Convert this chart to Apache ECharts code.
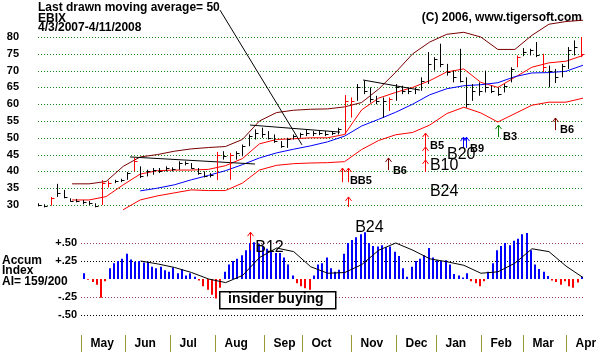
<!DOCTYPE html>
<html><head><meta charset="utf-8">
<script src="https://cdn.jsdelivr.net/npm/echarts@6/dist/echarts.min.js"></script>
<style>html,body{margin:0;padding:0;background:#fff}#c{width:611px;height:352px}</style>
</head><body><div id="c"></div>
<script>
// ---------- data ----------
const months = ['May','Jun','Jul','Aug','Sep','Oct','Nov','Dec','Jan','Feb','Mar','Apr'];
const monthStartDays = [20,41,62,83,106,124,147,168,187,208,228,248];
const lastDay = 256;
const priceTicks = [30, 80, 5];          // min, max, step
const accumTicks = [-0.5, 0.5, 0.25];

const barStep = 3; // trading days between bars
const barHigh  = [30.5,30.2,32.4,36.3,34.5,32.0,31.8,31.5,31.2,30.5,37.4,37.2,37.5,37.8,39.8,44.0,41.5,40.5,41.0,41.0,41.5,41.2,43.0,43.0,42.5,41.0,40.0,39.5,45.8,46.0,45.5,46.0,48.0,51.0,52.5,53.0,52.0,51.0,49.0,50.0,51.0,51.5,52.6,52.0,52.0,52.0,52.0,53.0,62.7,62.0,66.0,67.0,65.0,62.5,62.0,62.0,66.0,65.5,65.0,65.0,68.0,75.5,74.0,78.0,72.0,70.0,76.5,68.0,66.0,66.5,70.0,65.5,65.0,66.0,71.0,74.5,76.7,76.5,78.5,75.0,71.5,70.5,72.0,77.0,79.0,80.0];
const barLow   = [29.6,29.3,29.8,32.4,32.0,31.0,30.8,30.2,30.0,29.3,30.0,35.2,36.5,36.8,37.5,40.0,38.0,38.5,39.0,39.5,40.0,40.0,40.5,41.8,40.8,39.0,38.2,38.2,37.4,43.5,37.5,43.5,44.5,47.5,49.5,50.0,49.5,48.5,47.0,47.0,49.5,50.0,50.5,50.5,50.8,50.5,50.8,51.0,51.0,56.0,61.0,63.0,60.5,60.0,56.0,58.0,61.0,63.0,63.0,63.0,64.0,66.0,70.0,71.0,68.5,66.5,66.5,59.0,61.0,62.5,63.5,63.3,62.5,63.5,66.5,71.0,74.3,74.5,74.0,69.6,65.0,66.3,68.0,70.5,74.5,74.0];
const barClose = [30.0,29.6,32.0,33.5,32.5,31.3,31.2,30.8,30.5,29.6,36.5,36.6,37.0,37.5,39.5,43.0,38.5,40.0,40.5,40.0,41.0,40.8,42.5,42.5,41.0,39.5,38.5,39.0,45.0,44.5,44.8,45.5,47.5,50.5,51.5,51.0,50.0,49.0,47.5,49.5,50.5,51.0,51.5,51.5,51.5,51.2,51.5,52.5,61.0,61.0,65.0,64.0,61.5,61.0,61.0,61.5,65.0,64.0,64.0,64.5,67.0,72.0,73.5,72.0,69.5,68.0,67.0,60.0,64.0,64.0,65.0,64.0,63.0,65.5,70.5,74.0,75.5,76.0,74.5,71.0,70.0,68.0,71.5,76.0,77.0,75.0];
const barUp    = [0,0,1,0,0,0,0,0,0,0,1,1,0,0,0,1,0,0,0,0,0,0,0,0,0,0,0,0,1,0,1,0,0,0,0,0,0,0,0,0,0,0,0,0,0,0,0,0,1,1,0,0,0,0,0,1,0,0,0,0,0,0,0,0,0,0,0,0,0,0,0,0,0,0,0,1,0,0,0,1,0,0,0,0,0,1];

const maStep = 8; // trading days between line samples
const ma21      = [null,null,31.5,31.5,32.5,36.0,39.2,40.2,40.4,40.4,40.6,41.7,43.8,48.2,49.5,49.7,50.0,50.0,51.0,58.3,61.8,63.5,65.0,67.0,69.6,70.5,66.5,65.0,68.0,71.0,72.3,72.8,74.5];
const ma50      = [null,null,null,null,null,null,34.2,35.0,36.0,37.5,38.8,40.2,42.0,44.0,45.5,46.6,47.6,48.8,50.5,53.5,55.5,57.6,60.0,62.8,64.6,65.5,65.8,66.4,68.2,69.3,69.4,69.8,71.6];
const bandUpper = [null,null,36.3,36.3,37.0,41.5,44.3,45.0,46.0,46.7,47.1,47.4,49.5,55.0,57.5,58.2,58.5,58.6,59.2,60.5,64.5,69.5,75.0,78.5,80.8,81.4,80.0,76.3,76.3,80.5,83.8,84.6,85.0];
const bandLower = [null,null,null,null,null,28.6,31.5,32.7,33.6,34.5,34.3,34.3,36.5,40.4,41.8,42.3,42.5,42.6,42.9,46.5,49.2,50.9,51.6,53.8,57.2,59.1,57.4,54.7,57.2,59.7,60.6,60.6,61.8];

const accumStart = 21, accumStep = 2;
const accum = [0.08,-0.01,-0.04,-0.08,-0.26,-0.03,0.15,0.22,0.25,0.28,0.35,0.27,0.24,0.25,0.23,0.24,0.17,0.15,0.17,0.12,0.10,0.16,0.08,0.14,0.05,0.08,0.03,-0.02,-0.10,-0.15,-0.22,-0.27,-0.12,0.10,0.20,0.25,0.28,0.33,0.40,0.50,0.51,0.49,0.46,0.42,0.40,0.36,0.36,0.30,0.20,0.05,-0.06,-0.10,-0.13,-0.15,0.05,0.20,0.22,0.30,0.15,0.10,0.13,0.35,0.50,0.54,0.58,0.62,0.65,0.50,0.46,0.45,0.47,0.44,0.45,0.38,0.32,0.15,0.03,0.17,0.25,0.28,0.33,0.43,0.30,0.26,0.25,0.26,0.20,0.07,0.05,0.02,0.08,-0.03,-0.06,-0.10,-0.03,0.10,0.22,0.40,0.46,0.50,0.47,0.53,0.56,0.62,0.64,0.40,0.20,0.14,0.10,0.04,-0.02,-0.04,-0.08,-0.03,-0.10,-0.12,-0.05,0.03];
const accumMA = [null,null,null,null,null,null,0.25,0.21,0.16,0.09,0.00,-0.05,0.05,0.30,0.43,0.38,0.17,0.08,0.09,0.20,0.40,0.50,0.40,0.28,0.24,0.19,0.08,0.10,0.22,0.42,0.38,0.18,0.02];

// trend lines [day, price] pairs
const trendLines = [[[43.2,44.3],[101.9,42.2]], [[99.6,53.8],[141.9,51.7]], [[152.7,67.2],[179.4,64.2]]];
const pointerLine = [[85.5,88.0],[124.0,47.9]];

// signals: [day, fromValue, toValue, kind]
const priceArrows = [[143,36.8,41,'r'],[145.6,36.8,41,'r'],[145.6,29.4,32.4,'r'],[164.4,40.4,44,'m'],[181.8,39.8,43.4,'r'],[181.8,43.4,47.3,'r'],[181.8,47.3,51.4,'r'],[199.6,47,50.2,'b'],[201.2,47,50.2,'b'],[216,50.2,53.8,'g'],[242.8,52.3,55.9,'m']];
// labels: [day, value, text, big]
const priceLabels = [[146.5,37.1,'BB5',0],[166.7,40.1,'B6',0],[184.1,47.6,'B5',0],[184.1,41.6,'B10',1],[184.1,33.9,'B24',1],[192.1,44.9,'B20',1],[202.9,46.7,'B9',0],[218.4,50.2,'B3',0],[245.2,52.3,'B6',0]];
const accumArrows = [[99.6,0.40,0.65,'r']];
const accumLabels = [[101.9,0.43,'B12',1],[148.9,0.71,'B24',1]];

// ---------- chart ----------
const F = '"Liberation Sans", Arial, sans-serif';
const sigColor = {r:'#ff0000', m:'#800000', b:'#0000ff', g:'#008000'};
const chart = echarts.init(document.getElementById('c'));

function lineSeries(arr, step, start, color, xi, yi){
  return {type:'line', xAxisIndex:xi, yAxisIndex:yi, animation:false, silent:true, clip:false,
    data: arr.map((v,i)=>[start+i*step, v]).filter(p=>p[1]!=null),
    showSymbol:false, symbol:'none', lineStyle:{color:color, width:1}, z:3};
}
function segSeries(seg, xi, yi){
  return {type:'line', xAxisIndex:xi, yAxisIndex:yi, animation:false, silent:true, clip:false,
    data: seg, showSymbol:false, symbol:'none', lineStyle:{color:'#000', width:1}, z:4};
}
function arrowSeries(list, xi, yi){
  return {type:'custom', xAxisIndex:xi, yAxisIndex:yi, clip:false, silent:true, animation:false, z:6,
    data: list.map(s=>[s[0], s[1], s[2]]), encode:{x:0, y:[1,2]},
    renderItem:(params, api)=>{
      const s = list[params.dataIndex];
      const b = api.coord([s[0], s[1]]), t = api.coord([s[0], s[2]]);
      const x = Math.round(b[0]) + 0.5, c = sigColor[s[3]];
      return {type:'group', children:[
        {type:'polyline', shape:{points:[[x,b[1]],[x,t[1]]]}, style:{stroke:c, lineWidth:1}},
        {type:'polyline', shape:{points:[[x-3,t[1]+4],[x,t[1]],[x+3,t[1]+4]]}, style:{stroke:c, fill:null, lineWidth:1}}
      ]};
    }};
}
function labelSeries(list, xi, yi){
  return {type:'custom', xAxisIndex:xi, yAxisIndex:yi, clip:false, silent:true, animation:false, z:7,
    data: list.map(s=>[s[0], s[1]]), encode:{x:0, y:1},
    renderItem:(params, api)=>{
      const s = list[params.dataIndex];
      const p = api.coord([s[0], s[1]]);
      return {type:'text', x:p[0], y:p[1], style:{text:s[2], fill:'#000',
        font: s[3] ? '16px ' + F : 'bold 11px ' + F, verticalAlign:'middle', align:'left'}};
    }};
}
// dotted horizontal grid lines drawn along the value axis ticks
function gridDots(axisTicks, xi, yi, colorOf, x0, x1){
  const vals = [];
  for (let v = axisTicks[0]; v <= axisTicks[1] + 1e-9; v += axisTicks[2]) vals.push(+v.toFixed(4));
  return {type:'custom', xAxisIndex:xi, yAxisIndex:yi, clip:false, silent:true, animation:false, z:1,
    data: vals.map(v=>[x0, v]), encode:{x:0, y:1},
    renderItem:(params, api)=>{
      const v = vals[params.dataIndex];
      const c = colorOf(v);
      if (!c) return null;
      const a = api.coord([x0, v]), b = api.coord([x1, v]);
      const y = Math.round(a[1]) + 0.5;
      return {type:'line', shape:{x1:a[0], y1:y, x2:b[0], y2:y}, style:{stroke:c, lineWidth:1, lineDash:[1,2]}};
    }};
}

const option = {
  animation:false,
  backgroundColor:'#fff',
  grid:[
    {left:38, right:28, top:37, height:168},
    {left:81, right:28, top:243, height:72},
    {left:38, right:28, top:335, height:17}
  ],
  xAxis:[
    {type:'value', gridIndex:0, min:0, max:lastDay, show:false},
    {type:'value', gridIndex:1, min:20, max:lastDay, show:false},
    {type:'value', gridIndex:2, min:0, max:lastDay, show:false}
  ],
  yAxis:[
    {type:'value', gridIndex:0, min:priceTicks[0], max:priceTicks[1], interval:priceTicks[2],
      axisLine:{show:false}, axisTick:{show:false}, splitLine:{show:false},
      axisLabel:{color:'#000', fontFamily:F, fontWeight:'bold', fontSize:11, margin:19}},
    {type:'value', gridIndex:1, min:accumTicks[0], max:accumTicks[1], interval:accumTicks[2],
      axisLine:{show:false}, axisTick:{show:false}, splitLine:{show:false},
      axisLabel:{color:'#000', fontFamily:F, fontWeight:'bold', fontSize:11, margin:4,
        formatter:v=> Math.abs(v)<1e-9 ? '' : (v>0?'+':'-') + '.' + String(Math.round(Math.abs(v)*100)).padStart(2,'0')}},
    {type:'value', gridIndex:2, min:0, max:1, show:false}
  ],
  graphic:[
    {type:'text', left:38, top:2, style:{text:'Last drawn moving average= 50', font:'bold 12px '+F, fill:'#000'}},
    {type:'text', left:38, top:13, style:{text:'EBIX', font:'bold 12px '+F, fill:'#000'}},
    {type:'text', left:38, top:22, style:{text:'4/3/2007-4/11/2008', font:'bold 12px '+F, fill:'#000'}},
    {type:'text', right:29, top:12, style:{text:'(C) 2006, www.tigersoft.com', font:'bold 12px '+F, fill:'#000'}},
    {type:'text', left:2, top:255, style:{text:'Accum', font:'bold 12px '+F, fill:'#000'}},
    {type:'text', left:2, top:265, style:{text:'Index', font:'bold 12px '+F, fill:'#000'}},
    {type:'text', left:2, top:276, style:{text:'AI= 159/200', font:'bold 12px '+F, fill:'#000'}},
    {type:'rect', left:219, top:291, shape:{width:116, height:17}, style:{fill:'#fff', stroke:'#000', lineWidth:1.5}, z:20},
    {type:'text', left:228, top:292, style:{text:'insider buying', font:'bold 14px '+F, fill:'#000'}, z:21}
  ],
  series:[
    gridDots(priceTicks, 0, 0, v=>'#1a8a1a', 0, lastDay),
    gridDots(accumTicks, 1, 1, v=> Math.abs(v)<1e-9 ? null : (Math.abs(Math.abs(v)-0.5)<1e-9 ? (v>0?'#a04060':'#000') : (v>0?'#000':'#a04060')), 20, lastDay),
    lineSeries(bandUpper, maStep, 0, '#7a0000', 0, 0),
    lineSeries(bandLower, maStep, 0, '#ff0000', 0, 0),
    lineSeries(ma21, maStep, 0, '#ff0000', 0, 0),
    lineSeries(ma50, maStep, 0, '#0000ff', 0, 0),
    ...trendLines.map(s=>segSeries(s, 0, 0)),
    segSeries(pointerLine, 0, 0),
    {type:'custom', xAxisIndex:0, yAxisIndex:0, clip:false, silent:true, animation:false, z:5,
      data: barHigh.map((h,i)=>[i*barStep, h, barLow[i], barClose[i]]), encode:{x:0, y:[1,2]},
      renderItem:(params, api)=>{
        const i = params.dataIndex;
        const x0 = api.value(0);
        const hi = api.coord([x0, api.value(1)]), lo = api.coord([x0, api.value(2)]), cl = api.coord([x0, api.value(3)]);
        const x = Math.round(hi[0]) + 0.5, c = barUp[i] ? '#ff0000' : '#000';
        const yc = Math.round(cl[1]) + 0.5;
        return {type:'group', children:[
          {type:'polyline', shape:{points:[[x,hi[1]],[x,lo[1]]]}, style:{stroke:c, lineWidth:1}},
          {type:'polyline', shape:{points:[[x,yc],[x+3,yc]]}, style:{stroke:c, lineWidth:1}}
        ]};
      }},
    arrowSeries(priceArrows, 0, 0),
    labelSeries(priceLabels, 0, 0),
    // accumulation histogram
    {type:'custom', xAxisIndex:1, yAxisIndex:1, clip:false, silent:true, animation:false, z:3,
      data: accum.map((v,i)=>[accumStart+i*accumStep, v]), encode:{x:0, y:1},
      renderItem:(params, api)=>{
        const d = api.value(0), v = api.value(1);
        const z = api.coord([d, 0]), t = api.coord([d, v]);
        const x = Math.round(z[0]) + 1;
        return {type:'polyline', shape:{points:[[x,z[1]],[x,t[1]]]},
          style:{stroke: v >= 0 ? '#0000ff' : '#ff0000', lineWidth:2}};
      }},
    lineSeries(accumMA, maStep, 0, '#000', 1, 1),
    arrowSeries(accumArrows, 1, 1),
    labelSeries(accumLabels, 1, 1),
    // month axis
    {type:'custom', xAxisIndex:2, yAxisIndex:2, clip:false, silent:true, animation:false,
      data: monthStartDays.map((d,i)=>[d, i]), encode:{x:0},
      renderItem:(params, api)=>{
        const i = params.dataIndex;
        const p = api.coord([monthStartDays[i], 0]);
        const cs = params.coordSys;
        const x = Math.round(p[0]) + 0.5;
        return {type:'group', children:[
          {type:'polyline', shape:{points:[[x,cs.y],[x,cs.y+cs.height]]}, style:{stroke:'#999933', lineWidth:1}},
          {type:'text', x:x+9, y:cs.y+9, style:{text:months[i], font:'bold 12px '+F, fill:'#000', verticalAlign:'middle'}}
        ]};
      }}
  ]
};
chart.setOption(option);
</script>
</body></html>
